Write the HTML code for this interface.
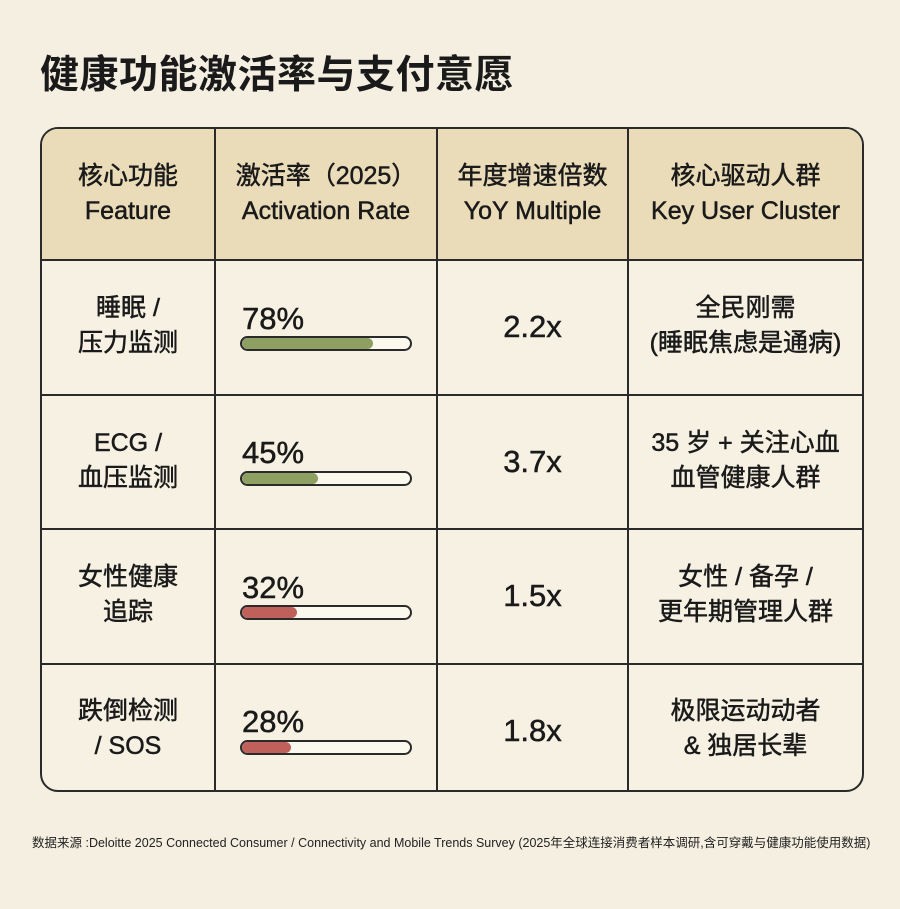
<!DOCTYPE html>
<html><head><meta charset="utf-8"><style>
body{margin:0;width:900px;height:909px;background:#f4efe0;font-family:"Liberation Sans","Noto Sans CJK SC",sans-serif;color:#1a1a1a;position:relative;overflow:hidden}
.a{position:absolute}
.t{left:40px;top:44px;font-size:39px;font-weight:bold;letter-spacing:0.5px}
.box{left:40px;top:127px;width:820px;height:661px;border:2.5px solid #2a2a2a;border-radius:18px;overflow:hidden;background:#f6f1e3}
.hdr{left:0;top:0;width:820px;height:131px;background:#eadcb8}
.vl{top:0;width:2px;height:661px;background:#2a2a2a}
.hl{left:0;width:820px;height:2px;background:#2a2a2a}
.c{text-align:center;font-size:25px;line-height:35px;-webkit-text-stroke:0.5px #1a1a1a}
.p{font-size:31px;-webkit-text-stroke:0.5px #1a1a1a}
.bar{width:168px;height:11px;border:2px solid #2a2a2a;border-radius:8px;background:#fbf8ee;overflow:hidden}
.bar i{display:block;height:100%;border-radius:8px}
.g{background:#8e9f62}.r{background:#c0605a}
.f{left:32px;top:832px;font-size:12.5px;color:#222}
</style></head><body>
<div class="a t">健康功能激活率与支付意愿</div>
<div class="a box">
<div class="a hdr"></div>
<div class="a vl" style="left:172px"></div>
<div class="a vl" style="left:394px"></div>
<div class="a vl" style="left:585px"></div>
<div class="a hl" style="top:130px"></div>
<div class="a hl" style="top:265px"></div>
<div class="a hl" style="top:399px"></div>
<div class="a hl" style="top:534px"></div>
<div class="a c" style="left:0;width:172px;top:30px">核心功能<br>Feature</div>
<div class="a c" style="left:174px;width:220px;top:30px">激活率（2025）<br>Activation Rate</div>
<div class="a c" style="left:396px;width:189px;top:30px">年度增速倍数<br>YoY Multiple</div>
<div class="a c" style="left:587px;width:233px;top:30px">核心驱动人群<br>Key User Cluster</div>

<div class="a c" style="left:0;width:172px;top:162px">睡眠 /<br>压力监测</div>
<div class="a p" style="left:200px;top:172px">78%</div>
<div class="a bar" style="left:198px;top:207px"><i class="g" style="width:78%"></i></div>
<div class="a c p" style="left:396px;width:189px;top:180px">2.2x</div>
<div class="a c" style="left:587px;width:233px;top:162px">全民刚需<br>(睡眠焦虑是通病)</div>

<div class="a c" style="left:0;width:172px;top:297px">ECG /<br>血压监测</div>
<div class="a p" style="left:200px;top:306px">45%</div>
<div class="a bar" style="left:198px;top:342px"><i class="g" style="width:45%"></i></div>
<div class="a c p" style="left:396px;width:189px;top:315px">3.7x</div>
<div class="a c" style="left:587px;width:233px;top:297px">35 岁 + 关注心血<br>血管健康人群</div>

<div class="a c" style="left:0;width:172px;top:431px">女性健康<br>追踪</div>
<div class="a p" style="left:200px;top:441px">32%</div>
<div class="a bar" style="left:198px;top:476px"><i class="r" style="width:33%"></i></div>
<div class="a c p" style="left:396px;width:189px;top:449px">1.5x</div>
<div class="a c" style="left:587px;width:233px;top:431px">女性 / 备孕 /<br>更年期管理人群</div>

<div class="a c" style="left:0;width:172px;top:565px">跌倒检测<br>/ SOS</div>
<div class="a p" style="left:200px;top:575px">28%</div>
<div class="a bar" style="left:198px;top:611px"><i class="r" style="width:29%"></i></div>
<div class="a c p" style="left:396px;width:189px;top:584px">1.8x</div>
<div class="a c" style="left:587px;width:233px;top:565px">极限运动动者<br>&amp; 独居长辈</div>
</div>
<div class="a f">数据来源 :Deloitte 2025 Connected Consumer / Connectivity and Mobile Trends Survey (2025年全球连接消费者样本调研,含可穿戴与健康功能使用数据)</div>
</body></html>
